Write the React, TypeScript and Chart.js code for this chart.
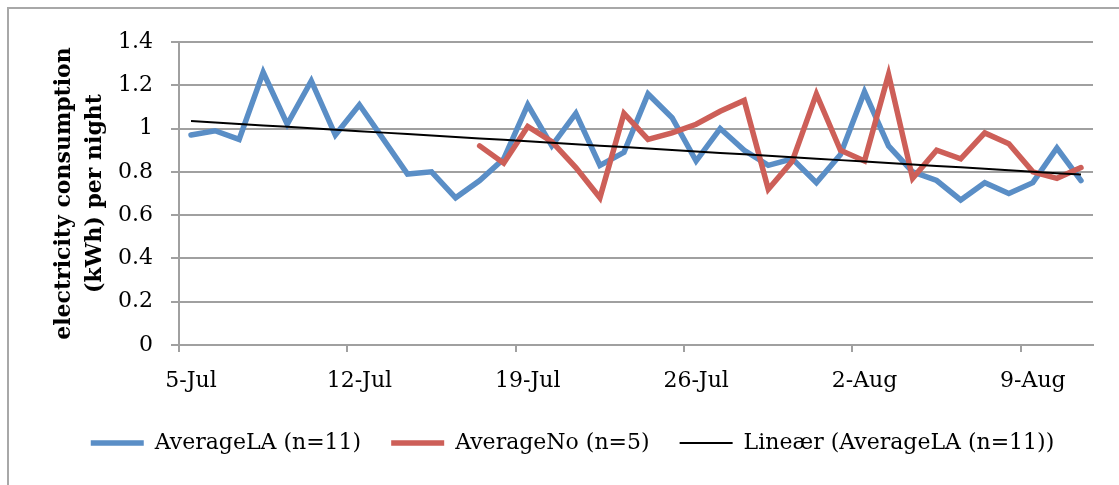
import { useEffect, useRef } from 'react';
import { Chart, registerables } from 'chart.js';

Chart.register(...registerables);

// Nightly averages, one entry per day from 5 July to 11 August
const dates = [
  '5-Jul', '6-Jul', '7-Jul', '8-Jul', '9-Jul', '10-Jul', '11-Jul',
  '12-Jul', '13-Jul', '14-Jul', '15-Jul', '16-Jul', '17-Jul', '18-Jul',
  '19-Jul', '20-Jul', '21-Jul', '22-Jul', '23-Jul', '24-Jul', '25-Jul',
  '26-Jul', '27-Jul', '28-Jul', '29-Jul', '30-Jul', '31-Jul', '1-Aug',
  '2-Aug', '3-Aug', '4-Aug', '5-Aug', '6-Aug', '7-Aug', '8-Aug',
  '9-Aug', '10-Aug', '11-Aug',
];

const averageLA = [
  0.97, 0.99, 0.95, 1.26, 1.02, 1.22, 0.97, 1.11, 0.95, 0.79,
  0.80, 0.68, 0.76, 0.86, 1.11, 0.92, 1.07, 0.83, 0.89, 1.16,
  1.05, 0.85, 1.00, 0.90, 0.83, 0.86, 0.75, 0.88, 1.17, 0.92,
  0.80, 0.76, 0.67, 0.75, 0.70, 0.75, 0.91, 0.76,
];

const averageNo = [
  null, null, null, null, null, null, null, null, null, null,
  null, null, 0.92, 0.84, 1.01, 0.94, 0.82, 0.68, 1.07, 0.95,
  0.98, 1.02, 1.08, 1.13, 0.72, 0.85, 1.16, 0.90, 0.85, 1.25,
  0.77, 0.90, 0.86, 0.98, 0.93, 0.80, 0.77, 0.82,
];

const seriesNames = ['AverageLA (n=11)', 'AverageNo (n=5)', 'Lineær (AverageLA (n=11))'];
const yTickStep = 0.2;
const labelEvery = 7;

// Least-squares linear trend of the AverageLA series over the day index
function linearTrend(values: number[]): number[] {
  const n = values.length;
  let sx = 0, sy = 0, sxy = 0, sxx = 0;
  values.forEach((v, i) => {
    sx += i; sy += v; sxy += i * v; sxx += i * i;
  });
  const slope = (n * sxy - sx * sy) / (n * sxx - sx * sx);
  const intercept = (sy - slope * sx) / n;
  return values.map((_, i) => intercept + slope * i);
}

const FONT = "'DejaVu Serif', serif";
const GRID = '#a0a0a0';
const BLUE = '#5a8ec6';
const RED = '#cd5f58';

// Horizontal geometry of the plot (canvas pixels)
const PAD_LEFT = 52;
const PLOT_LEFT = 179;

export default function App() {
  const canvasRef = useRef<HTMLCanvasElement | null>(null);

  useEffect(() => {
    const canvas = canvasRef.current;
    if (!canvas) return;
    const chart = new Chart(canvas, {
      type: 'line',
      data: {
        labels: dates,
        datasets: [
          {
            label: seriesNames[0],
            data: averageLA,
            borderColor: BLUE,
            backgroundColor: BLUE,
            borderWidth: 5.5,
            borderCapStyle: 'round',
            pointRadius: 0,
            tension: 0,
            order: 2,
          },
          {
            label: seriesNames[1],
            data: averageNo,
            borderColor: RED,
            backgroundColor: RED,
            borderWidth: 5.5,
            borderCapStyle: 'round',
            pointRadius: 0,
            tension: 0,
            order: 1,
          },
          {
            label: seriesNames[2],
            data: linearTrend(averageLA),
            borderColor: '#000000',
            backgroundColor: '#000000',
            borderWidth: 2,
            pointRadius: 0,
            tension: 0,
            order: 0,
          },
        ],
      },
      options: {
        animation: false,
        responsive: false,
        maintainAspectRatio: false,
        layout: { padding: { left: PAD_LEFT, top: 42, right: 26, bottom: 21 } },
        plugins: {
          legend: {
            position: 'bottom',
            labels: {
              boxWidth: 53,
              boxHeight: 0,
              padding: 30,
              color: '#000000',
              font: { family: FONT, size: 22 },
              sort: (a: any, b: any) => a.datasetIndex - b.datasetIndex,
            },
          },
          tooltip: { enabled: false },
        },
        scales: {
          x: {
            offset: true,
            grid: {
              offset: true,
              drawOnChartArea: false,
              drawTicks: true,
              tickLength: 7,
              lineWidth: 2,
              color: (ctx: any) => (ctx.index % labelEvery === 0 ? GRID : 'rgba(0,0,0,0)'),
            },
            border: { color: GRID, width: 2 },
            ticks: {
              autoSkip: false,
              maxRotation: 0,
              minRotation: 0,
              padding: 16,
              color: '#000000',
              font: { family: FONT, size: 22 },
              callback: (_v: any, i: number) => (i % labelEvery === 0 ? dates[i] : ''),
            },
            afterFit: (s: any) => { s.height = 57; },
          },
          y: {
            min: 0,
            max: 1.4,
            ticks: {
              stepSize: yTickStep,
              padding: 18,
              color: '#000000',
              font: { family: FONT, size: 22 },
              callback: (v: any) => String(Math.round(Number(v) * 10) / 10),
            },
            grid: { color: GRID, lineWidth: 2, tickLength: 8 },
            border: { color: GRID, width: 2 },
            title: {
              display: true,
              text: ['electricity consumption', '(kWh) per night'],
              color: '#000000',
              font: { family: FONT, size: 22, weight: 'bold', lineHeight: 1.4 },
              padding: { top: -3.4, bottom: 0 },
            },
            afterFit: (s: any) => { s.width = PLOT_LEFT - PAD_LEFT; },
          },
        },
      },
    } as any);
    return () => chart.destroy();
  }, []);

  return (
    <div style={{ position: 'relative', width: 1119, height: 485, overflow: 'hidden', background: '#ffffff' }}>
      <style>{'body{margin:0;overflow:hidden;}'}</style>
      <div
        style={{
          position: 'absolute',
          left: 7,
          top: 7,
          right: 0,
          bottom: 0,
          borderLeft: '2px solid #a8a8a8',
          borderTop: '2px solid #a8a8a8',
        }}
      />
      <canvas
        ref={canvasRef}
        width={1119}
        height={485}
        style={{ position: 'absolute', left: 0, top: 0, width: 1119, height: 485 }}
      />
    </div>
  );
}
